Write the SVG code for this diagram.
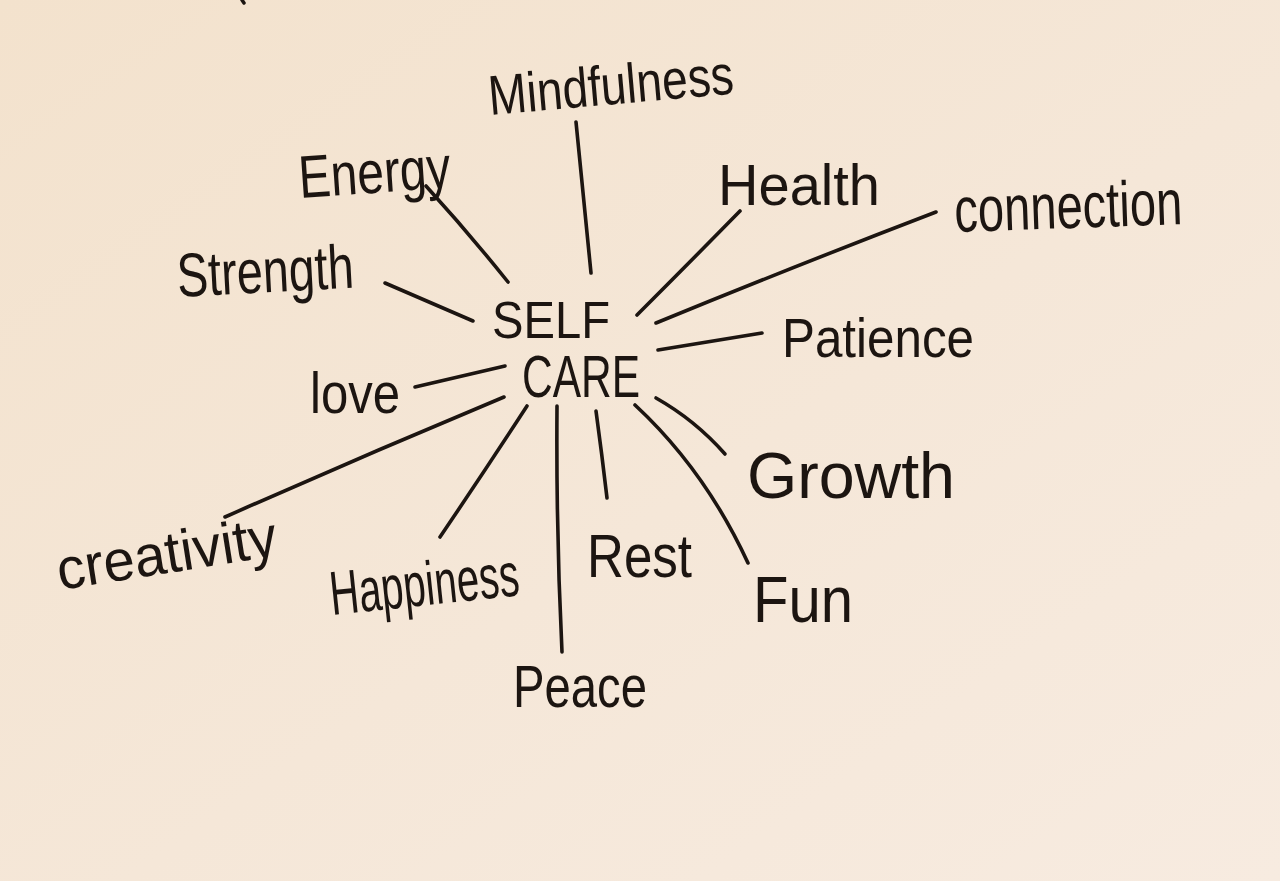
<svg xmlns="http://www.w3.org/2000/svg" width="1280" height="881" viewBox="0 0 1280 881">
  <defs>
    <linearGradient id="paper" x1="0" y1="0" x2="1" y2="1">
      <stop offset="0" stop-color="#f3e2cd"/>
      <stop offset="0.55" stop-color="#f5e7d8"/>
      <stop offset="1" stop-color="#f7ebe0"/>
    </linearGradient>
    <style>
      .ink { fill: #1c1511; font-family: "Liberation Sans", "DejaVu Sans", sans-serif; }
      .hub { fill: #1c1511; font-family: "Liberation Sans", "DejaVu Sans", sans-serif; }
      .conn { fill: none; stroke: #1c1511; stroke-width: 3.6; stroke-linecap: round; stroke-linejoin: round; }
    </style>
  </defs>

  <rect x="0" y="0" width="1280" height="881" fill="url(#paper)"/>
  <path d="M242 0 L244 3" stroke="#1c1511" stroke-width="3.5" stroke-linecap="round" fill="none"/>

  <g id="connectors">
    <path class="conn" d="M576 122 Q584 200 591 273"/>
    <path class="conn" d="M426 186 Q468 232 508 282"/>
    <path class="conn" d="M740 211 Q690 262 637 315"/>
    <path class="conn" d="M936 212 Q795 266 656 323"/>
    <path class="conn" d="M385 283 L473 321"/>
    <path class="conn" d="M762 333 L658 350"/>
    <path class="conn" d="M415 387 L505 366"/>
    <path class="conn" d="M504 397 Q365 455 225 517"/>
    <path class="conn" d="M656 398 Q695 420 725 454"/>
    <path class="conn" d="M527 406 Q484 472 440 537"/>
    <path class="conn" d="M557 406 Q556 530 562 652"/>
    <path class="conn" d="M596 411 Q602 455 607 498"/>
    <path class="conn" d="M635 405 Q705 470 748 563"/>
  </g>

  <g id="self-care">
    <text class="hub" x="492" y="338" font-size="52" textLength="118" lengthAdjust="spacingAndGlyphs">SELF</text>
    <text class="hub" x="522" y="397" font-size="60" textLength="118" lengthAdjust="spacingAndGlyphs">CARE</text>
  </g>

  <g id="mindfulness">
    <text class="ink" x="490" y="115" font-size="56" textLength="246" lengthAdjust="spacingAndGlyphs" transform="rotate(-5 490 115)">Mindfulness</text>
  </g>
  <g id="energy">
    <text class="ink" x="300" y="198" font-size="60" textLength="152" lengthAdjust="spacingAndGlyphs" transform="rotate(-4 300 198)">Energy</text>
  </g>
  <g id="health">
    <text class="ink" x="718" y="205" font-size="58" textLength="162" lengthAdjust="spacingAndGlyphs">Health</text>
  </g>
  <g id="connection">
    <text class="ink" x="955" y="232" font-size="64" textLength="228" lengthAdjust="spacingAndGlyphs" transform="rotate(-2 955 232)">connection</text>
  </g>
  <g id="strength">
    <text class="ink" x="178" y="297" font-size="62" textLength="177" lengthAdjust="spacingAndGlyphs" transform="rotate(-3 178 297)">Strength</text>
  </g>
  <g id="patience">
    <text class="ink" x="782" y="357" font-size="56" textLength="192" lengthAdjust="spacingAndGlyphs">Patience</text>
  </g>
  <g id="love">
    <text class="ink" x="310" y="413" font-size="58" textLength="90" lengthAdjust="spacingAndGlyphs">love</text>
  </g>
  <g id="growth">
    <text class="ink" x="747" y="498" font-size="64" textLength="208" lengthAdjust="spacingAndGlyphs">Growth</text>
  </g>
  <g id="creativity">
    <text class="ink" x="60" y="590" font-size="58" textLength="222" lengthAdjust="spacingAndGlyphs" transform="rotate(-9 60 590)">creativity</text>
  </g>
  <g id="happiness">
    <text class="ink" x="332" y="615" font-size="62" textLength="190" lengthAdjust="spacingAndGlyphs" transform="rotate(-6 332 615)">Happiness</text>
  </g>
  <g id="rest">
    <text class="ink" x="587" y="577" font-size="62" textLength="105" lengthAdjust="spacingAndGlyphs">Rest</text>
  </g>
  <g id="fun">
    <text class="ink" x="753" y="622" font-size="64" textLength="100" lengthAdjust="spacingAndGlyphs">Fun</text>
  </g>
  <g id="peace">
    <text class="ink" x="513" y="707" font-size="60" textLength="134" lengthAdjust="spacingAndGlyphs">Peace</text>
  </g>
</svg>
